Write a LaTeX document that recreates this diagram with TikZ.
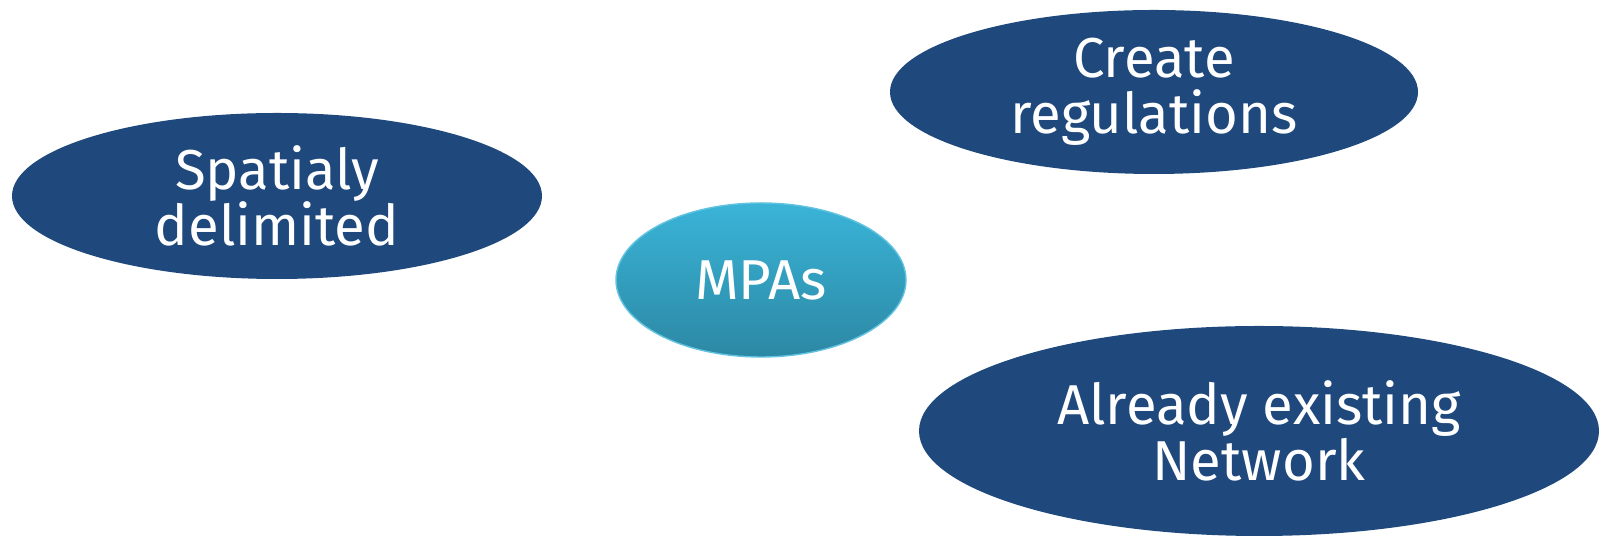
\documentclass[tikz,border=0pt]{standalone}
\usepackage{fontspec}
\setmainfont{Fira Sans}
\usetikzlibrary{shapes.geometric}
\definecolor{darkblue}{HTML}{1F497D}
\definecolor{aquatop}{HTML}{3AB4D8}
\definecolor{aquabot}{HTML}{2C88A4}

\begin{document}
\begin{tikzpicture}
\tikzset{bulle/.style={ellipse, fill=darkblue, text=white, align=center, inner sep=0pt, font=\fontsize{16}{16}\selectfont}}
\useasboundingbox (0,0) rectangle (16.08,-5.38);
\node[bulle, minimum width=5.30cm, minimum height=1.66cm] (spat) at (2.77,-1.96) {Spatialy\\delimited};
\node[bulle, minimum width=5.28cm, minimum height=1.64cm] (regs) at (11.54,-0.92) {Create\\regulations};
\node[bulle, minimum width=6.80cm, minimum height=2.10cm] (net) at (12.59,-4.31) {Already existing\\Network};
\node[bulle, top color=aquatop, bottom color=aquabot, draw=aquatop!80!white, line width=0.4pt, minimum width=2.90cm, minimum height=1.54cm] (mpas) at (7.61,-2.80) {MPAs};
\end{tikzpicture}
\end{document}
